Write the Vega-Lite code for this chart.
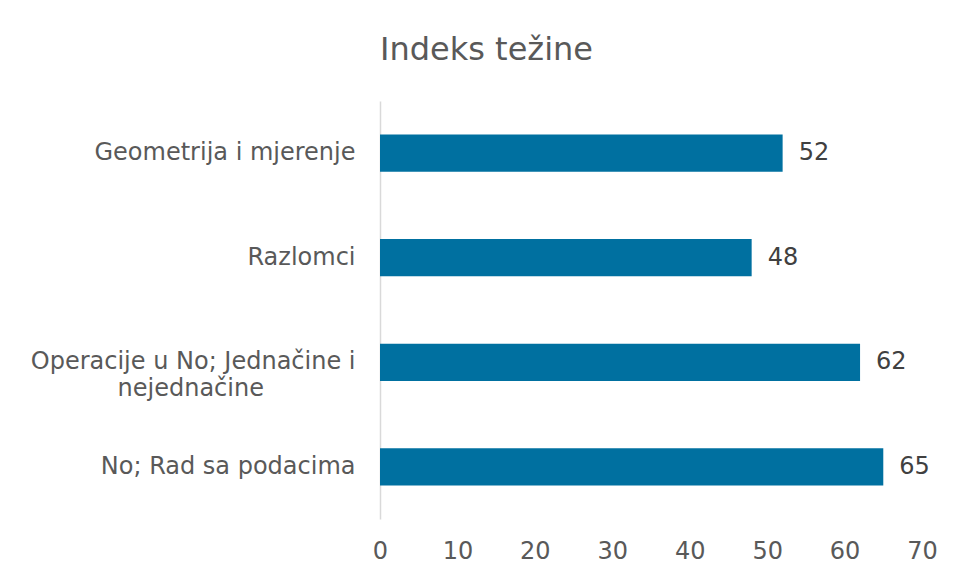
{
  "$schema": "https://vega.github.io/schema/vega-lite/v6.json",
  "width": 542,
  "height": 418,
  "autosize": {"type": "none"},
  "padding": {"left": 380, "top": 101, "right": 33, "bottom": 56},
  "background": "white",
  "config": {
    "font": "DejaVu Sans",
    "view": {"stroke": null}
  },
  "title": {
    "text": "Indeks težine",
    "anchor": "start",
    "frame": "group",
    "baseline": "alphabetic",
    "offset": 9,
    "fontSize": 32,
    "fontWeight": "normal",
    "color": "#595959",
    "font": "DejaVu Sans"
  },
  "data": {
    "values": [
      {"kategorija": "Geometrija i mjerenje", "indeks": 52},
      {"kategorija": "Razlomci", "indeks": 48},
      {"kategorija": "Operacije u No; Jednačine i nejednačine", "indeks": 62},
      {"kategorija": "No; Rad sa podacima", "indeks": 65}
    ]
  },
  "encoding": {
    "y": {
      "field": "kategorija",
      "type": "nominal",
      "sort": null,
      "scale": {"paddingInner": 0.645, "paddingOuter": 0.32},
      "axis": {
        "title": null,
        "ticks": false,
        "domainColor": "#d9d9d9",
        "domainWidth": 1.5,
        "labelFontSize": 24,
        "labelColor": "#595959",
        "labelPadding": 25,
        "labelLimit": 400,
        "labelLineHeight": 27,
        "labelAlign": "right",
        "labelExpr": "indexof(datum.value, 'Operacije') == 0 ? ['Operacije u No; Jednačine i', 'nejednačine\u00a0\u00a0\u00a0\u00a0\u00a0\u00a0\u00a0\u00a0\u00a0\u00a0\u00a0\u00a0\u200b'] : datum.value"
      }
    },
    "x": {
      "field": "indeks",
      "type": "quantitative",
      "scale": {"domain": [0, 70]},
      "axis": {
        "title": null,
        "values": [0, 10, 20, 30, 40, 50, 60, 70],
        "grid": false,
        "ticks": false,
        "domain": false,
        "labelFontSize": 24,
        "labelColor": "#595959",
        "labelPadding": 20,
        "labelFlush": false
      }
    }
  },
  "layer": [
    {"mark": {"type": "bar", "color": "#0070a0"}},
    {
      "mark": {"type": "text", "align": "left", "dx": 16, "fontSize": 24, "color": "#404040"},
      "encoding": {"text": {"field": "indeks", "type": "quantitative"}}
    }
  ]
}
